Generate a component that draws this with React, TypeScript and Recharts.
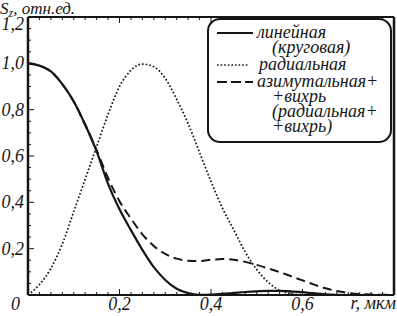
import React from 'react';
import { LineChart, Line, XAxis, YAxis, Legend } from 'recharts';

const rValues = [
  0, 0.025, 0.05, 0.075, 0.1, 0.125, 0.15, 0.175, 0.2, 0.225, 0.25, 0.275, 0.3, 0.325, 0.35, 0.375, 0.4,
  0.425, 0.45, 0.475, 0.5, 0.525, 0.55, 0.575, 0.6, 0.625, 0.65, 0.675, 0.7, 0.725, 0.75, 0.775, 0.8,
];
const linearValues = [
  1.0, 0.99, 0.965, 0.91, 0.835, 0.735, 0.62, 0.48, 0.37, 0.28, 0.195, 0.12, 0.065, 0.027, 0.008, 0.001, 0.002,
  0.005, 0.009, 0.013, 0.016, 0.018, 0.018, 0.016, 0.012, 0.007, 0.003, 0.001, 0, 0, 0, 0, 0,
];
const radialValues = [
  0, 0.045, 0.115, 0.22, 0.36, 0.5, 0.64, 0.78, 0.9, 0.97, 0.997, 0.985, 0.935, 0.845, 0.74, 0.615, 0.49,
  0.375, 0.28, 0.185, 0.11, 0.055, 0.02, 0.006, 0.001, 0, 0, 0, 0, 0, 0, 0, 0,
];
const vortexValues = [
  1.0, 0.99, 0.965, 0.91, 0.835, 0.735, 0.625, 0.505, 0.405, 0.33, 0.262, 0.212, 0.177, 0.157, 0.148, 0.147, 0.152,
  0.155, 0.152, 0.143, 0.13, 0.115, 0.099, 0.081, 0.063, 0.045, 0.029, 0.017, 0.009, 0.004, 0.002, 0.001, 0,
];

const xMajorTicks = [0, 0.2, 0.4, 0.6, 0.8];
const yMajorTicks = [0, 0.2, 0.4, 0.6, 0.8, 1.0, 1.2];
const seriesLabels = [
  ['линейная', '(круговая)'],
  ['радиальная'],
  ['азимутальная+', '+вихрь', '(радиальная+', '+вихрь)'],
];
const xTitle = 'r, мкм';
const yTitle = ['S', 'z', ', отн.ед.'];

const INK = '#161616';
const FONT = "'Liberation Serif', 'Times New Roman', serif";

// minor ticks: 0.025 along r, 0.05 along S
const xMinorTicks = Array.from({ length: 33 }, (_, i) => Math.round(i * 25) / 1000);
const yMinorTicks = Array.from({ length: 25 }, (_, i) => Math.round(i * 50) / 1000);

const data = rValues.map((r, i) => ({
  r,
  linear: linearValues[i],
  radial: radialValues[i],
  vortex: vortexValues[i],
}));

const isMajor = (v: number, majors: number[]) => majors.some(m => Math.abs(m - v) < 1e-6);
const fmt = (v: number) => (v === 0 ? '0' : v.toFixed(1).replace('.', ','));

const textStyle: React.CSSProperties = { fontFamily: FONT, fontStyle: 'italic', fontSize: 18 };

const BottomTick = ({ x, y, payload }: any) => {
  const v = payload.value;
  const major = isMajor(v, xMajorTicks);
  const showLabel = major && v < 0.7;
  return (
    <g>
      <line x1={x} x2={x} y1={y} y2={y - (major ? 6 : 3)} stroke={INK} strokeWidth={1} />
      {showLabel && (
        <text x={v === 0 ? x - 8 : x} y={y + 15} textAnchor={v === 0 ? 'end' : 'middle'} fill={INK} style={textStyle}>
          {fmt(v)}
        </text>
      )}
    </g>
  );
};

const TopTick = ({ x, y, payload }: any) => {
  const major = isMajor(payload.value, xMajorTicks);
  return <line x1={x} x2={x} y1={y} y2={y + (major ? 6 : 3)} stroke={INK} strokeWidth={1} />;
};

const LeftTick = ({ x, y, payload }: any) => {
  const v = payload.value;
  const major = isMajor(v, yMajorTicks);
  const top = Math.abs(v - 1.2) < 1e-6;
  return (
    <g>
      <line x1={x} x2={x + (major ? 6 : 3)} y1={y} y2={y} stroke={INK} strokeWidth={1} />
      {major && v > 0 && (
        <text x={x - 4} y={y + (top ? 13 : 6)} textAnchor="end" fill={INK} style={textStyle}>
          {fmt(v)}
        </text>
      )}
    </g>
  );
};

const RightTick = ({ x, y, payload }: any) => {
  const major = isMajor(payload.value, yMajorTicks);
  return <line x1={x} x2={x - (major ? 6 : 3)} y1={y} y2={y} stroke={INK} strokeWidth={1} />;
};

const sampleStyles = [
  { dash: undefined, width: 2.2 },
  { dash: '1.6 2', width: 1.6 },
  { dash: '10 4', width: 2.2 },
];

const LegendBox = () => {
  let baseline = 20;
  const rows: React.ReactNode[] = [];
  seriesLabels.forEach((lines, si) => {
    if (si > 0) baseline += 17;
    const s = sampleStyles[si];
    rows.push(
      <line key={`s${si}`} x1={10} x2={si === 1 ? 41 : 46} y1={baseline - 5} y2={baseline - 5}
        stroke={INK} strokeWidth={s.width} strokeDasharray={s.dash} />
    );
    lines.forEach((t, li) => {
      if (li > 0) baseline += 15;
      rows.push(
        <text key={`t${si}-${li}`} x={li === 0 ? (si === 1 ? 52 : 50) : 65} y={baseline} fill={INK} style={textStyle}>
          {t}
        </text>
      );
    });
  });
  return (
    <svg width={186} height={126} style={{ display: 'block' }}>
      <rect x={1} y={1} width={183} height={123} rx={12} ry={12} fill="#fff" stroke={INK} strokeWidth={2} />
      {rows}
    </svg>
  );
};

const App: React.FC = () => {
  return (
    <div style={{ position: 'absolute', left: 0, top: 0, background: '#fff' }}>
      <LineChart width={397} height={316} data={data} margin={{ top: 0, right: 0, bottom: 0, left: 0 }}>
        <XAxis
          xAxisId="b"
          dataKey="r"
          type="number"
          domain={[0, 0.8]}
          ticks={xMinorTicks}
          interval={0}
          height={21}
          tickSize={0}
          tickMargin={0}
          tickLine={false}
          axisLine={{ stroke: INK, strokeWidth: 2 }}
          tick={<BottomTick />}
          label={{
            content: () => (
              <text x={396} y={309} textAnchor="end" fill={INK} style={textStyle}>
                {xTitle}
              </text>
            ),
          }}
        />
        <XAxis
          xAxisId="t"
          orientation="top"
          dataKey="r"
          type="number"
          domain={[0, 0.8]}
          ticks={xMinorTicks}
          interval={0}
          height={17}
          tickSize={0}
          tickMargin={0}
          tickLine={false}
          axisLine={{ stroke: INK, strokeWidth: 2 }}
          tick={<TopTick />}
        />
        <YAxis
          yAxisId="l"
          type="number"
          domain={[0, 1.2]}
          ticks={yMinorTicks}
          interval={0}
          width={28}
          tickSize={0}
          tickMargin={0}
          tickLine={false}
          axisLine={{ stroke: INK, strokeWidth: 2.5 }}
          tick={<LeftTick />}
          label={{
            content: () => (
              <text x={0} y={14} fill={INK} style={{ ...textStyle, fontSize: 17 }}>
                {yTitle[0]}
                <tspan fontSize={12} dy={3}>{yTitle[1]}</tspan>
                <tspan dy={-3}>{yTitle[2]}</tspan>
              </text>
            ),
          }}
        />
        <YAxis
          yAxisId="r"
          orientation="right"
          type="number"
          domain={[0, 1.2]}
          ticks={yMinorTicks}
          interval={0}
          width={3}
          tickSize={0}
          tickMargin={0}
          tickLine={false}
          axisLine={{ stroke: INK, strokeWidth: 2.5 }}
          tick={<RightTick />}
        />
        <Legend
          layout="vertical"
          align="center"
          verticalAlign="middle"
          wrapperStyle={{ left: 207, top: 18, width: 186, height: 126 }}
          content={() => <LegendBox />}
        />
        <Line xAxisId="b" yAxisId="l" type="monotone" dataKey="radial" stroke={INK} strokeWidth={1.7}
          strokeDasharray="1.7 2" dot={false} isAnimationActive={false} />
        <Line xAxisId="b" yAxisId="l" type="monotone" dataKey="vortex" stroke={INK} strokeWidth={2}
          strokeDasharray="9 5" dot={false} isAnimationActive={false} />
        <Line xAxisId="b" yAxisId="l" type="monotone" dataKey="linear" stroke={INK} strokeWidth={2.2}
          dot={false} isAnimationActive={false} />
      </LineChart>
    </div>
  );
};

export default App;
